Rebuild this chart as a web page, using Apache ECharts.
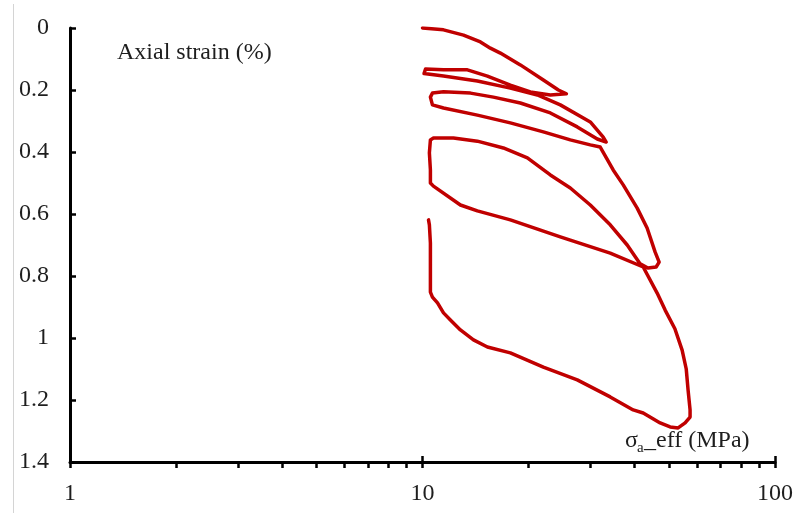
<!DOCTYPE html>
<html>
<head>
<meta charset="utf-8">
<script src="https://cdn.jsdelivr.net/npm/echarts@6/dist/echarts.min.js"></script>
<style>
html,body{margin:0;padding:0;background:#fff;}
#chart{width:796px;height:515px;}
</style>
</head>
<body>
<div id="chart"></div>
<script>
// effective axial stress (MPa), in drawing order
var sigmaEff = [
  10.0, 11.47, 13.07, 14.60, 15.58, 16.63, 18.95, 22.02, 24.29, 25.6,
  23.05, 20.23, 17.75, 15.28, 13.41, 11.47, 10.2, 10.07, 10.1,
  11.47, 14.31, 17.75, 21.18, 24.60, 29.92, 32.56, 33.2,
  31.32, 27.48, 23.05, 18.95, 15.89, 13.68, 11.47, 10.67, 10.53, 10.67,
  11.47, 14.31, 17.75, 22.02, 26.26, 29.92, 31.93, 34.75, 37.10, 40.65, 43.37, 45.71, 46.92, 46.0, 43.6,
  41.46, 38.08, 34.08, 29.92, 26.26, 23.05, 19.84, 16.96, 14.31, 12.24, 10.74, 10.53, 10.46, 10.53, 10.53,
  10.74, 12.81, 14.31, 17.75, 24.60, 34.08, 42.28, 46.31, 48.79, 52.0, 54.52, 56.0, 56.68, 57.42, 57.42, 55.59, 53.11,
  50.41, 47.23, 42.28, 39.60, 34.08, 27.48, 22.02, 17.75, 15.28, 13.95, 12.81, 12.00, 11.47, 11.03, 10.67, 10.53, 10.53, 10.53, 10.46, 10.40
];
// axial strain (%), same order
var axialStrain = [
  0.0, 0.006, 0.023, 0.045, 0.065, 0.081, 0.119, 0.168, 0.200, 0.212,
  0.216, 0.206, 0.184, 0.155, 0.135, 0.135, 0.132, 0.137, 0.147,
  0.155, 0.171, 0.194, 0.216, 0.248, 0.303, 0.352, 0.368,
  0.358, 0.319, 0.274, 0.242, 0.223, 0.210, 0.206, 0.210, 0.223, 0.248,
  0.258, 0.281, 0.306, 0.335, 0.361, 0.377, 0.384, 0.458, 0.506, 0.581, 0.645, 0.723, 0.755, 0.771, 0.774,
  0.761, 0.700, 0.635, 0.571, 0.516, 0.474, 0.419, 0.387, 0.365, 0.355, 0.355, 0.361, 0.403, 0.458, 0.500,
  0.510, 0.571, 0.590, 0.619, 0.674, 0.726, 0.771, 0.855, 0.910, 0.970, 1.039, 1.100, 1.168, 1.232, 1.255, 1.274, 1.290,
  1.287, 1.274, 1.242, 1.232, 1.190, 1.135, 1.094, 1.048, 1.029, 1.006, 0.974, 0.942, 0.919, 0.887, 0.868, 0.852, 0.781, 0.694, 0.635, 0.619
];
var xTickLabels = ['1', '10', '100'];
var xMinorTickValues = [1, 2, 3, 4, 5, 6, 7, 8, 9, 10, 20, 30, 40, 50, 60, 70, 80, 90, 100];
var yTickLabels = ['0', '0.2', '0.4', '0.6', '0.8', '1', '1.2', '1.4'];

var FONT = '"Liberation Serif", "Times New Roman", serif';
var TXT = '#1e1e1e';

var lineData = sigmaEff.map(function (x, i) { return [x, axialStrain[i]]; });

var chart = echarts.init(document.getElementById('chart'), null, {renderer: 'canvas'});
chart.setOption({
  animation: false,
  backgroundColor: '#fff',
  grid: {left: 70, right: 20, top: 28, bottom: 53, containLabel: false},
  xAxis: [{
    type: 'log', logBase: 10, min: 1, max: 100, position: 'bottom',
    axisLine: {show: true, onZero: false, lineStyle: {color: '#000', width: 3}},
    axisTick: {show: true, inside: true, length: 6, lineStyle: {color: '#000', width: 2.5}},
    minorTick: {show: false},
    splitLine: {show: false},
    axisLabel: {
      fontFamily: FONT, fontSize: 24, color: TXT, margin: 20,
      formatter: function (v) {
        var i = Math.round(Math.log10(v));
        return xTickLabels[i] !== undefined ? xTickLabels[i] : '';
      }
    }
  }, {
    type: 'value', min: 0, max: 2, position: 'bottom',
    axisLine: {show: false, onZero: false},
    axisTick: {
      show: true, inside: false, length: 6,
      customValues: xMinorTickValues.map(function (v) { return Math.log10(v); }),
      lineStyle: {color: '#000', width: 2.5}
    },
    axisLabel: {show: false},
    splitLine: {show: false}
  }],
  yAxis: {
    type: 'value', inverse: true, min: 0, max: 1.4, interval: 0.2,
    axisLine: {show: true, onZero: false, lineStyle: {color: '#000', width: 3}},
    axisTick: {show: true, inside: true, length: 6, lineStyle: {color: '#000', width: 2.5}},
    splitLine: {show: false},
    axisLabel: {
      fontFamily: FONT, fontSize: 24, color: TXT, margin: 21,
      formatter: function (v) { return yTickLabels[Math.round(v / 0.2)]; }
    }
  },
  series: [{
    type: 'line', xAxisIndex: 0, yAxisIndex: 0,
    data: lineData, showSymbol: false, smooth: false,
    lineStyle: {color: '#C00000', width: 3.5, join: 'round', cap: 'round'}
  }],
  graphic: [
    {type: 'line', shape: {x1: 13.5, y1: 4, x2: 13.5, y2: 513}, style: {stroke: '#d4d4d4', lineWidth: 1}, silent: true},
    {type: 'text', left: 117, top: 41, style: {text: 'Axial strain (%)', font: '24px ' + FONT, fill: TXT}},
    {type: 'text', left: 625, top: 429, style: {text: 'σ', font: '24px ' + FONT, fill: TXT}},
    {type: 'text', left: 637, top: 441, style: {text: 'a', font: '15px ' + FONT, fill: TXT}},
    {type: 'text', left: 644, top: 429, style: {text: '_eff (MPa)', font: '24px ' + FONT, fill: TXT}}
  ]
});
</script>
</body>
</html>
